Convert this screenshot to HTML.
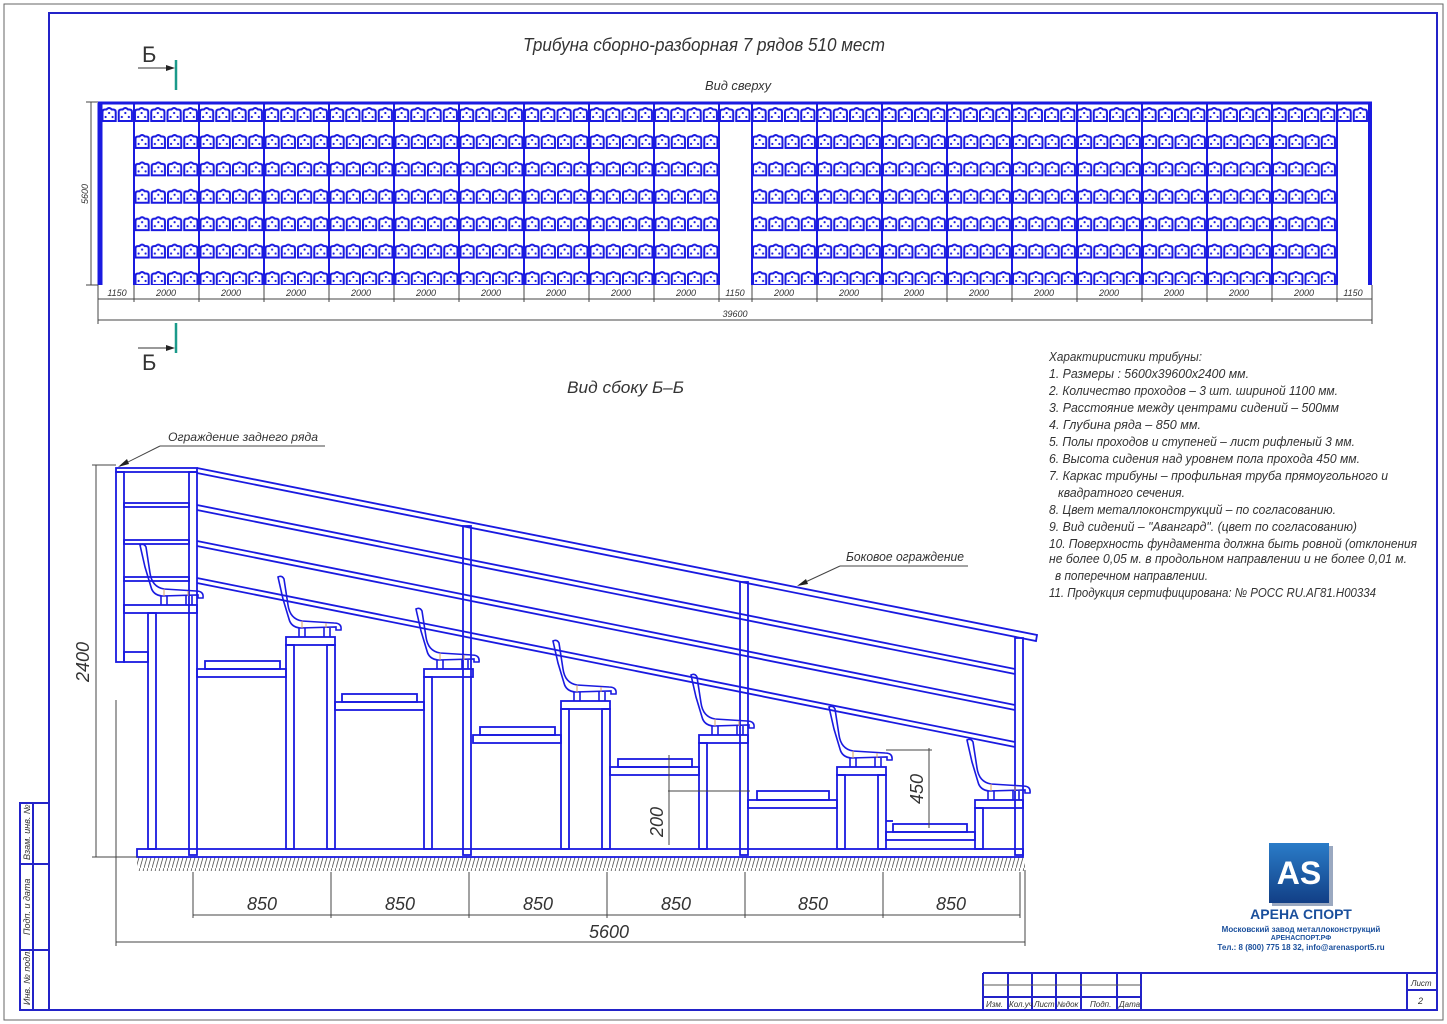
<!DOCTYPE html>
<html><head><meta charset="utf-8">
<style>
html,body{margin:0;padding:0;background:#fff;}
svg{display:block;}
text{font-family:"Liberation Sans","DejaVu Sans",sans-serif;font-style:italic;fill:#333;}
</style></head>
<body>
<svg width="1447" height="1024" viewBox="0 0 1447 1024" xmlns="http://www.w3.org/2000/svg">
<defs>
  <pattern id="seats" patternUnits="userSpaceOnUse" x="134" y="134" width="16.25" height="27.4">
    <path d="M1.5,14 V5 Q1.5,2.5 4,2.5 H5.5 Q8.1,-0.5 10.7,2.5 H12.2 Q14.7,2.5 14.7,5 V14 Z" fill="none" stroke="#1a1ae0" stroke-width="2"/>
    <circle cx="4.6" cy="10" r="1.1" fill="#1a1ae0"/><circle cx="11.6" cy="10" r="1.1" fill="#1a1ae0"/><circle cx="8.1" cy="6" r="1.1" fill="#1a1ae0"/>
  </pattern>
  <pattern id="seats1" patternUnits="userSpaceOnUse" x="101" y="107" width="16.25" height="30">
    <path d="M1.5,14 V5 Q1.5,2.5 4,2.5 H5.5 Q8.1,-0.5 10.7,2.5 H12.2 Q14.7,2.5 14.7,5 V14 Z" fill="none" stroke="#1a1ae0" stroke-width="2"/>
    <circle cx="4.6" cy="10" r="1.1" fill="#1a1ae0"/><circle cx="11.6" cy="10" r="1.1" fill="#1a1ae0"/><circle cx="8.1" cy="6" r="1.1" fill="#1a1ae0"/>
  </pattern>
  <pattern id="hatch" patternUnits="userSpaceOnUse" width="4" height="14">
    <line x1="0" y1="14" x2="4" y2="0" stroke="#555" stroke-width="0.8"/>
  </pattern>
  <g id="seat" fill="none" stroke="#1a1ae0" stroke-width="1.6">
    <path d="M-8,-60 Q-4,-62 -2,-58 L2,-32 Q4,-18 16,-16 L48,-14 Q56,-14 55,-7 L50,-7 L50,-10 L14,-9 Q5,-10 3,-18 L-3,-38 Z"/>
    <path d="M13,-9 V0 M19,-9 V0 M38,-9 V0 M44,-9 V0"/>
    <path d="M16,-16 V-9 M40,-14 V-9" stroke="#d9a060" stroke-width="1"/>
  </g>
</defs>

<!-- frames -->
<rect x="4" y="4" width="1439" height="1016" fill="none" stroke="#666" stroke-width="1"/>
<rect x="49" y="13" width="1388" height="997" fill="none" stroke="#2323c8" stroke-width="2"/>
<g fill="none" stroke="#2323c8" stroke-width="2">
  <rect x="20" y="803" width="29" height="207"/>
  <line x1="20" y1="864" x2="49" y2="864"/><line x1="20" y1="950" x2="49" y2="950"/>
  <line x1="33" y1="803" x2="33" y2="1010"/>
  <line x1="983" y1="973" x2="1437" y2="973"/>
  <line x1="983" y1="973" x2="983" y2="1010"/>
  <line x1="1008" y1="973" x2="1008" y2="1010"/><line x1="1032" y1="973" x2="1032" y2="1010"/>
  <line x1="1056" y1="973" x2="1056" y2="1010"/><line x1="1081" y1="973" x2="1081" y2="1010"/>
  <line x1="1117" y1="973" x2="1117" y2="1010"/><line x1="1141" y1="973" x2="1141" y2="1010"/>
  <line x1="983" y1="997" x2="1141" y2="997"/>
  <line x1="1407" y1="973" x2="1407" y2="1010"/><line x1="1407" y1="990" x2="1437" y2="990"/>
</g>
<line x1="983" y1="985" x2="1141" y2="985" stroke="#555" stroke-width="1"/>
<g font-size="8">
  <text x="986" y="1007">Изм.</text><text x="1009" y="1007">Кол.уч</text><text x="1034" y="1007">Лист</text>
  <text x="1057" y="1007">№док</text><text x="1090" y="1007">Подп.</text><text x="1119" y="1007">Дата</text>
  <text x="1411" y="986">Лист</text><text x="1418" y="1004" font-size="9">2</text>
  <text transform="translate(30,860) rotate(-90)" font-size="9">Взам. инв. №</text>
  <text transform="translate(30,935) rotate(-90)" font-size="9">Подп. и дата</text>
  <text transform="translate(30,1005) rotate(-90)" font-size="9">Инв. № подл.</text>
</g>

<!-- titles -->
<text x="523" y="51" font-size="18" textLength="362" lengthAdjust="spacingAndGlyphs">Трибуна сборно-разборная 7 рядов 510 мест</text>
<text x="705" y="90" font-size="13" textLength="66" lengthAdjust="spacingAndGlyphs">Вид сверху</text>
<text x="567" y="393" font-size="17" textLength="117" lengthAdjust="spacingAndGlyphs">Вид сбоку Б–Б</text>

<!-- section markers -->
<text x="142" y="62" font-size="22" style="font-style:normal">Б</text>
<line x1="138" y1="68" x2="172" y2="68" stroke="#333" stroke-width="1"/><path d="M166,65 L175,68 L166,71 Z" fill="#222"/>
<line x1="176" y1="60" x2="176" y2="90" stroke="#1a9a8a" stroke-width="2.5"/>
<text x="142" y="370" font-size="22" style="font-style:normal">Б</text>
<line x1="138" y1="348" x2="172" y2="348" stroke="#333" stroke-width="1"/><path d="M166,345 L175,348 L166,351 Z" fill="#222"/>
<line x1="176" y1="323" x2="176" y2="353" stroke="#1a9a8a" stroke-width="2.5"/>

<!-- top view -->
<rect x="134" y="134" width="585" height="151" fill="url(#seats)"/>
<rect x="752" y="134" width="585" height="151" fill="url(#seats)"/>
<rect x="101" y="107" width="1268" height="15" fill="url(#seats1)"/>
<g stroke="#1a1ae0" stroke-width="2" fill="none">
  <line x1="98" y1="103" x2="1372" y2="103" stroke-width="3"/>
  <line x1="100" y1="103" x2="100" y2="285" stroke-width="5"/>
  <line x1="1370" y1="103" x2="1370" y2="285" stroke-width="4"/>
  <line x1="134" y1="103" x2="134" y2="285"/><line x1="199" y1="103" x2="199" y2="285"/>
  <line x1="264" y1="103" x2="264" y2="285"/><line x1="329" y1="103" x2="329" y2="285"/>
  <line x1="394" y1="103" x2="394" y2="285"/><line x1="459" y1="103" x2="459" y2="285"/>
  <line x1="524" y1="103" x2="524" y2="285"/><line x1="589" y1="103" x2="589" y2="285"/>
  <line x1="654" y1="103" x2="654" y2="285"/><line x1="719" y1="103" x2="719" y2="285"/>
  <line x1="752" y1="103" x2="752" y2="285"/><line x1="817" y1="103" x2="817" y2="285"/>
  <line x1="882" y1="103" x2="882" y2="285"/><line x1="947" y1="103" x2="947" y2="285"/>
  <line x1="1012" y1="103" x2="1012" y2="285"/><line x1="1077" y1="103" x2="1077" y2="285"/>
  <line x1="1142" y1="103" x2="1142" y2="285"/><line x1="1207" y1="103" x2="1207" y2="285"/>
  <line x1="1272" y1="103" x2="1272" y2="285"/><line x1="1337" y1="103" x2="1337" y2="285"/>
</g>
<g stroke="#444" stroke-width="1" fill="none">
  <line x1="91" y1="102" x2="91" y2="285"/><line x1="86" y1="102" x2="98" y2="102"/><line x1="86" y1="285" x2="98" y2="285"/>
  <line x1="98" y1="299" x2="1372" y2="299"/>
  <line x1="98" y1="320" x2="1372" y2="320"/>
  <line x1="98" y1="285" x2="98" y2="324"/><line x1="1372" y1="285" x2="1372" y2="324"/>
  <line x1="134" y1="285" x2="134" y2="302"/><line x1="199" y1="285" x2="199" y2="302"/><line x1="264" y1="285" x2="264" y2="302"/>
  <line x1="329" y1="285" x2="329" y2="302"/><line x1="394" y1="285" x2="394" y2="302"/><line x1="459" y1="285" x2="459" y2="302"/>
  <line x1="524" y1="285" x2="524" y2="302"/><line x1="589" y1="285" x2="589" y2="302"/><line x1="654" y1="285" x2="654" y2="302"/>
  <line x1="719" y1="285" x2="719" y2="302"/><line x1="752" y1="285" x2="752" y2="302"/><line x1="817" y1="285" x2="817" y2="302"/>
  <line x1="882" y1="285" x2="882" y2="302"/><line x1="947" y1="285" x2="947" y2="302"/><line x1="1012" y1="285" x2="1012" y2="302"/>
  <line x1="1077" y1="285" x2="1077" y2="302"/><line x1="1142" y1="285" x2="1142" y2="302"/><line x1="1207" y1="285" x2="1207" y2="302"/>
  <line x1="1272" y1="285" x2="1272" y2="302"/><line x1="1337" y1="285" x2="1337" y2="302"/>
</g>
<g font-size="9" text-anchor="middle">
  <text transform="translate(88,194) rotate(-90)">5600</text>
  <text x="117" y="296">1150</text><text x="166" y="296">2000</text><text x="231" y="296">2000</text><text x="296" y="296">2000</text>
  <text x="361" y="296">2000</text><text x="426" y="296">2000</text><text x="491" y="296">2000</text><text x="556" y="296">2000</text>
  <text x="621" y="296">2000</text><text x="686" y="296">2000</text><text x="735" y="296">1150</text>
  <text x="784" y="296">2000</text><text x="849" y="296">2000</text><text x="914" y="296">2000</text><text x="979" y="296">2000</text>
  <text x="1044" y="296">2000</text><text x="1109" y="296">2000</text><text x="1174" y="296">2000</text><text x="1239" y="296">2000</text>
  <text x="1304" y="296">2000</text><text x="1353" y="296">1150</text>
  <text x="735" y="317">39600</text>
</g>

<!-- side view -->
<rect x="137" y="857" width="888" height="14" fill="url(#hatch)"/>
<g fill="none" stroke="#1a1ae0" stroke-width="1.8">
  <path d="M197,468 L1037,635 L1036,641 L197,473"/>
  <path d="M197,505 L1015,669 M197,510 L1015,674"/>
  <path d="M197,541 L1015,705 M197,546 L1015,710"/>
  <path d="M197,578 L1015,742 M197,583 L1015,747"/>
  <rect x="116" y="468" width="81" height="4"/>
  <rect x="116" y="472" width="8" height="190"/>
  <rect x="189" y="472" width="8" height="383"/>
  <rect x="124" y="503" width="65" height="4"/><rect x="124" y="540" width="65" height="4"/><rect x="124" y="577" width="65" height="4"/>
  <rect x="124" y="652" width="24" height="10"/>
  <rect x="463" y="526" width="8" height="329"/>
  <rect x="740" y="582" width="8" height="273"/>
  <rect x="1015" y="638" width="8" height="217"/>
  <rect x="124" y="605" width="73" height="8"/><rect x="148" y="613" width="8" height="236"/>
  <rect x="286" y="637" width="49" height="8"/><rect x="286" y="645" width="8" height="204"/><rect x="327" y="645" width="8" height="204"/>
  <rect x="424" y="669" width="49" height="8"/><rect x="424" y="677" width="8" height="172"/>
  <rect x="561" y="701" width="49" height="8"/><rect x="561" y="709" width="8" height="140"/><rect x="602" y="709" width="8" height="140"/>
  <rect x="699" y="735" width="49" height="8"/><rect x="699" y="743" width="8" height="106"/>
  <rect x="837" y="767" width="49" height="8"/><rect x="837" y="775" width="8" height="74"/><rect x="878" y="775" width="8" height="74"/>
  <rect x="975" y="800" width="48" height="8"/><rect x="975" y="808" width="8" height="41"/>
  <rect x="197" y="669" width="89" height="8"/><rect x="205" y="661" width="75" height="8"/>
  <rect x="335" y="702" width="89" height="8"/><rect x="342" y="694" width="75" height="8"/>
  <rect x="473" y="735" width="88" height="8"/><rect x="480" y="727" width="75" height="8"/>
  <rect x="610" y="767" width="89" height="8"/><rect x="618" y="759" width="74" height="8"/>
  <rect x="748" y="800" width="89" height="8"/><rect x="757" y="791" width="72" height="9"/>
  <rect x="886" y="832" width="89" height="8"/><rect x="893" y="824" width="74" height="8"/>
  <line x1="886" y1="821" x2="893" y2="821"/>
  <rect x="137" y="849" width="886" height="8"/>
</g>
<use href="#seat" x="148" y="605"/><use href="#seat" x="286" y="637"/><use href="#seat" x="424" y="669"/>
<use href="#seat" x="561" y="701"/><use href="#seat" x="699" y="735"/><use href="#seat" x="837" y="767"/>
<use href="#seat" x="975" y="800"/>

<g stroke="#444" stroke-width="1" fill="none">
  <line x1="96" y1="465" x2="96" y2="857"/><line x1="92" y1="465" x2="116" y2="465"/><line x1="92" y1="857" x2="137" y2="857"/>
  <line x1="116" y1="700" x2="116" y2="946"/><line x1="1025" y1="870" x2="1025" y2="946"/>
  <line x1="116" y1="942" x2="1025" y2="942"/>
  <line x1="193" y1="872" x2="193" y2="918"/><line x1="331" y1="872" x2="331" y2="918"/><line x1="469" y1="872" x2="469" y2="918"/>
  <line x1="607" y1="872" x2="607" y2="918"/><line x1="745" y1="872" x2="745" y2="918"/><line x1="883" y1="872" x2="883" y2="918"/>
  <line x1="1020" y1="872" x2="1020" y2="918"/>
  <line x1="193" y1="915" x2="1020" y2="915"/>
  <line x1="669" y1="755" x2="669" y2="845"/><line x1="668" y1="791" x2="750" y2="791"/>
  <line x1="929" y1="748" x2="929" y2="828"/><line x1="886" y1="750" x2="932" y2="750"/>
  <line x1="160" y1="446" x2="325" y2="446"/><line x1="160" y1="446" x2="120" y2="466"/>
  <line x1="840" y1="566" x2="968" y2="566"/><line x1="840" y1="566" x2="799" y2="585"/>
</g>
<path d="M118,467 L127,459 L129,464 Z" fill="#222"/>
<path d="M797,586 L806,579 L808,584 Z" fill="#222"/>
<g font-size="18" text-anchor="middle">
  <text x="262" y="910">850</text><text x="400" y="910">850</text><text x="538" y="910">850</text>
  <text x="676" y="910">850</text><text x="813" y="910">850</text><text x="951" y="910">850</text>
  <text x="609" y="938">5600</text>
  <text transform="translate(89,662) rotate(-90)">2400</text>
  <text transform="translate(663,822) rotate(-90)">200</text>
  <text transform="translate(923,789) rotate(-90)">450</text>
</g>
<text x="168" y="441" font-size="12" textLength="150" lengthAdjust="spacingAndGlyphs">Ограждение заднего ряда</text>
<text x="846" y="561" font-size="13" textLength="118" lengthAdjust="spacingAndGlyphs">Боковое ограждение</text>

<g font-size="13">
  <text x="1049" y="361" textLength="153" lengthAdjust="spacingAndGlyphs">Характиристики трибуны:</text>
  <text x="1049" y="378" textLength="200" lengthAdjust="spacingAndGlyphs">1. Размеры : 5600x39600x2400 мм.</text>
  <text x="1049" y="395" textLength="289" lengthAdjust="spacingAndGlyphs">2. Количество проходов – 3 шт. шириной 1100 мм.</text>
  <text x="1049" y="412" textLength="290" lengthAdjust="spacingAndGlyphs">3. Расстояние между центрами сидений  – 500мм</text>
  <text x="1049" y="429" textLength="152" lengthAdjust="spacingAndGlyphs">4. Глубина ряда – 850 мм.</text>
  <text x="1049" y="446" textLength="306" lengthAdjust="spacingAndGlyphs">5. Полы проходов и ступеней – лист рифленый 3 мм.</text>
  <text x="1049" y="463" textLength="311" lengthAdjust="spacingAndGlyphs">6. Высота сидения над уровнем пола прохода 450 мм.</text>
  <text x="1049" y="480" textLength="339" lengthAdjust="spacingAndGlyphs">7. Каркас трибуны – профильная труба прямоугольного и</text>
  <text x="1058" y="497" textLength="127" lengthAdjust="spacingAndGlyphs">квадратного сечения.</text>
  <text x="1049" y="514" textLength="287" lengthAdjust="spacingAndGlyphs">8. Цвет металлоконструкций – по согласованию.</text>
  <text x="1049" y="531" textLength="308" lengthAdjust="spacingAndGlyphs">9. Вид сидений – "Авангард". (цвет по согласованию)</text>
  <text x="1049" y="548" textLength="368" lengthAdjust="spacingAndGlyphs">10. Поверхность фундамента должна быть ровной (отклонения</text>
  <text x="1049" y="563" textLength="358" lengthAdjust="spacingAndGlyphs">не более 0,05 м. в продольном направлении и не более 0,01 м.</text>
  <text x="1055" y="580" textLength="153" lengthAdjust="spacingAndGlyphs">в поперечном направлении.</text>
  <text x="1049" y="597" textLength="327" lengthAdjust="spacingAndGlyphs">11. Продукция сертифицирована: № РОСС RU.АГ81.Н00334</text>
</g>

<rect x="1272" y="846" width="61" height="60" fill="#9aa8c0"/>
<defs><linearGradient id="lg" x1="0" y1="0" x2="0" y2="1"><stop offset="0" stop-color="#2a7cc8"/><stop offset="1" stop-color="#123f86"/></linearGradient></defs>
<rect x="1269" y="843" width="60" height="60" fill="url(#lg)"/>
<text x="1299" y="884" font-size="32" text-anchor="middle" style="fill:#fff;font-style:normal;font-weight:bold">AS</text>
<text x="1301" y="919" font-size="14" text-anchor="middle" style="fill:#1a4f9c;font-style:normal;font-weight:bold">АРЕНА СПОРТ</text>
<text x="1301" y="932" font-size="8" text-anchor="middle" style="fill:#1a4f9c;font-style:normal;font-weight:bold">Московский завод металлоконструкций</text>
<text x="1301" y="940" font-size="7" text-anchor="middle" style="fill:#1a4f9c;font-style:normal;font-weight:bold">АРЕНАСПОРТ.РФ</text>
<text x="1301" y="950" font-size="8" text-anchor="middle" style="fill:#1a4f9c;font-style:normal;font-weight:bold">Тел.: 8 (800) 775 18 32, info@arenasport5.ru</text>
</svg>
</body></html>
